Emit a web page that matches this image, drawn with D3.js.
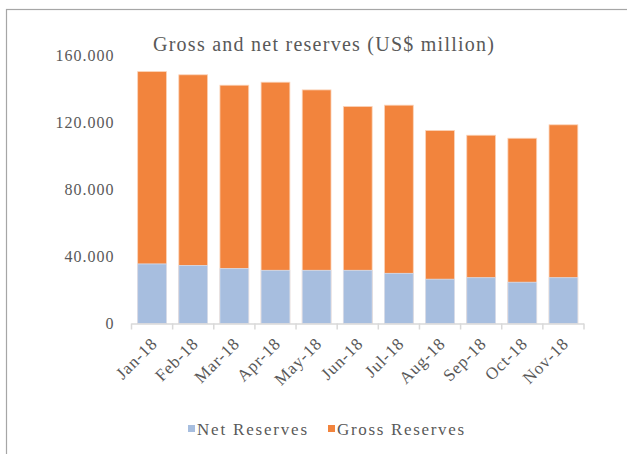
<!DOCTYPE html>
<html>
<head>
<meta charset="utf-8">
<script src="https://cdn.jsdelivr.net/npm/d3@7"></script>
<style>
  body { margin: 0; background: #fff; }
  svg { display: block; }
  text { font-family: "Liberation Serif", "DejaVu Serif", serif; fill: #595959; }
</style>
</head>
<body>
<svg id="chart"></svg>
<script>
var months = ['Jan-18', 'Feb-18', 'Mar-18', 'Apr-18', 'May-18', 'Jun-18', 'Jul-18', 'Aug-18', 'Sep-18', 'Oct-18', 'Nov-18']
var grossReserves = [150100, 148200, 142000, 143800, 139200, 129300, 130100, 115000, 112200, 110400, 118400]
var netReserves = [35500, 34500, 32700, 31700, 31700, 31700, 29900, 26400, 27300, 24600, 27300]
var yTicks = [0, 40000, 80000, 120000, 160000]
var seriesNames = ['Net Reserves', 'Gross Reserves']
var seriesColors = ['#a7bedf', '#f2843d']

var width = 627;
var height = 454;
var borders = {
  top: 55,
  right: 43,
  bottom: 130.5,
  left: 131.5
}

var svg = d3.select('#chart').attr('width', width).attr('height', height)

// frame of the chart area (right and bottom edges run off the picture)
svg.append('rect')
  .attr('x', 6.5).attr('y', 9.5)
  .attr('width', 640).attr('height', 470)
  .attr('fill', 'none')
  .attr('stroke', '#a6a6a6')
  .attr('stroke-width', 1.2)

var xScale = d3.scaleBand()
  .domain(months)
  .range([borders.left, width - borders.right])
  .paddingInner(0.3)
  .paddingOuter(0.15)

var yScale = d3.scaleLinear()
  .domain([0, 160000])
  .range([height - borders.bottom, borders.top])

// title
svg.append('text')
  .attr('x', 323.5)
  .attr('y', 51)
  .attr('text-anchor', 'middle')
  .attr('font-size', '20px')
  .attr('textLength', 341)
  .attr('lengthAdjust', 'spacing')
  .text('Gross and net reserves (US$ million)')

// y axis labels
var yAxis = svg.append('g')
  .attr('class', 'leftAxis')
  .attr('transform', 'translate(' + borders.left + ',0)')
  .call(d3.axisLeft(yScale).tickValues(yTicks).tickSize(0).tickPadding(17)
    .tickFormat(function(d) { return d === 0 ? '0' : d3.format(',')(d).replace(/,/g, '.') }))
yAxis.select('.domain').remove()
yAxis.selectAll('text')
  .attr('font-family', '"Liberation Serif", serif')
  .attr('font-size', '16px')
  .attr('letter-spacing', '1px')
  .attr('fill', '#595959')

// bars: gross behind, net in front
var bars = svg.append('g')
bars.selectAll('.gross')
  .data(grossReserves)
  .enter()
  .append('rect')
  .attr('class', 'gross')
  .attr('x', function(d, i) { return xScale(months[i]) })
  .attr('width', xScale.bandwidth())
  .attr('y', function(d) { return yScale(d) })
  .attr('height', function(d) { return yScale(0) - yScale(d) })
  .attr('fill', seriesColors[1])
  .attr('stroke', '#fbd3b8')
  .attr('stroke-width', 0.8)

bars.selectAll('.net')
  .data(netReserves)
  .enter()
  .append('rect')
  .attr('class', 'net')
  .attr('x', function(d, i) { return xScale(months[i]) })
  .attr('width', xScale.bandwidth())
  .attr('y', function(d) { return yScale(d) })
  .attr('height', function(d) { return yScale(0) - yScale(d) })
  .attr('fill', seriesColors[0])
  .attr('stroke', '#d6e0f0')
  .attr('stroke-width', 0.8)

// x axis line and ticks at category boundaries
var y0 = yScale(0)
var xAxis = svg.append('g').attr('class', 'bottomAxis')
xAxis.append('line')
  .attr('x1', borders.left).attr('x2', width - borders.right)
  .attr('y1', y0 + 0.5).attr('y2', y0 + 0.5)
  .attr('stroke', '#d9d9d9').attr('stroke-width', 1.5)
var boundaries = months.map(function(m, i) { return i }).concat([months.length])
xAxis.selectAll('.tick')
  .data(boundaries)
  .enter()
  .append('line')
  .attr('x1', function(i) { return borders.left + i * xScale.step() })
  .attr('x2', function(i) { return borders.left + i * xScale.step() })
  .attr('y1', y0).attr('y2', y0 + 6)
  .attr('stroke', '#d9d9d9').attr('stroke-width', 1.5)

xAxis.selectAll('.label')
  .data(months)
  .enter()
  .append('text')
  .attr('class', 'label')
  .attr('text-anchor', 'end')
  .attr('font-size', '17px')
  .attr('letter-spacing', '0.8px')
  .attr('transform', function(d) {
    return 'translate(' + (xScale(d) + xScale.bandwidth() / 2 + 2) + ',' + (y0 + 17) + ')rotate(-45)'
  })
  .attr('dy', '0.35em')
  .text(function(d) { return d })

// legend
var legendX = [188, 328]
var legendW = [110, 127]
var legend = svg.append('g').attr('class', 'legend')
seriesNames.forEach(function(name, i) {
  legend.append('rect')
    .attr('x', legendX[i]).attr('y', 425)
    .attr('width', 7).attr('height', 7)
    .attr('fill', seriesColors[i])
  legend.append('text')
    .attr('x', legendX[i] + 9).attr('y', 435)
    .attr('font-size', '17px')
    .attr('textLength', legendW[i])
    .attr('lengthAdjust', 'spacing')
    .text(name)
})
</script>
</body>
</html>
